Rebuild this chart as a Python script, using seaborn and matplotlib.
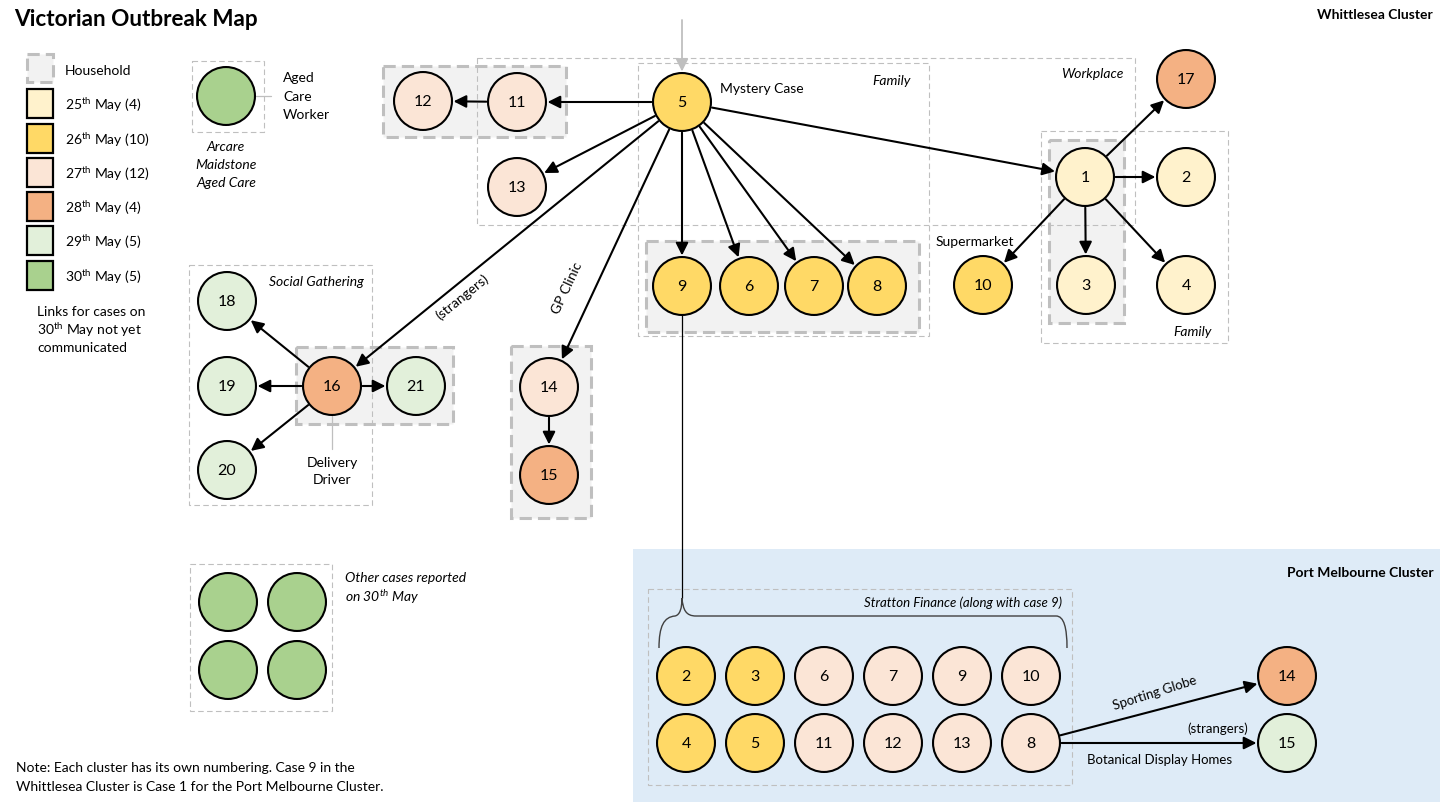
import matplotlib
matplotlib.use('Agg')
import matplotlib.pyplot as plt
from matplotlib.patches import Rectangle, PathPatch
from matplotlib.path import Path
import seaborn as sns
import pandas as pd

sns.set_theme(style='white')
plt.rcParams['font.family'] = ['Lato', 'DejaVu Sans']
plt.rcParams['text.color'] = 'black'
plt.rcParams['mathtext.fontset'] = 'custom'
plt.rcParams['mathtext.rm'] = 'Lato'
plt.rcParams['mathtext.it'] = 'Lato:italic'
plt.rcParams['mathtext.bf'] = 'Lato:bold'

# ---------------- data ----------------
date_labels = ['25th May', '26th May', '27th May', '28th May', '29th May', '30th May']
date_counts = [4, 10, 12, 4, 5, 5]
date_colors = ['#FFF2CC', '#FFD966', '#FBE5D6', '#F4B183', '#E2F0DA', '#A9D18E']

whittlesea_cases = [1, 2, 3, 4, 5, 6, 7, 8, 9, 10, 11, 12, 13, 14, 15, 16, 17, 18, 19, 20, 21]
whittlesea_dates = ['25th May', '25th May', '25th May', '25th May',
                    '26th May', '26th May', '26th May', '26th May', '26th May', '26th May',
                    '27th May', '27th May', '27th May', '27th May',
                    '28th May', '28th May', '28th May',
                    '29th May', '29th May', '29th May', '29th May']
whittlesea_links = [(5, 11), (11, 12), (5, 13), (5, 16), (5, 14), (5, 9), (5, 6), (5, 7), (5, 8),
                    (5, 1), (1, 17), (1, 2), (1, 3), (1, 4), (1, 10),
                    (16, 18), (16, 19), (16, 20), (16, 21), (14, 15)]

portmelb_cases = [2, 3, 6, 7, 9, 10, 4, 5, 11, 12, 13, 8, 14, 15]
portmelb_dates = ['26th May', '26th May', '27th May', '27th May', '27th May', '27th May',
                  '26th May', '26th May', '27th May', '27th May', '27th May', '27th May',
                  '28th May', '29th May']
portmelb_links = [(8, 14), (8, 15)]

other_cases = ['Aged Care Worker', 'Other A', 'Other B', 'Other C', 'Other D']
other_dates = ['30th May'] * 5

# ---------------- layout (pixel canvas) ----------------
W_POS = {5: (682, 102), 11: (517, 102), 12: (423, 101), 13: (517, 187),
         9: (682, 286), 6: (749, 286), 7: (814, 286), 8: (877, 286),
         1: (1085, 177), 2: (1186, 177), 3: (1086, 285), 4: (1186, 285),
         17: (1186, 79), 10: (983, 285),
         16: (332, 386), 18: (227, 301), 19: (227, 386), 20: (227, 470), 21: (416, 386),
         14: (549, 387), 15: (549, 475)}
P_POS = {2: (686, 676), 3: (755, 676), 6: (824, 676), 7: (893, 676), 9: (962, 676), 10: (1031, 676),
         4: (686, 743), 5: (755, 743), 11: (824, 743), 12: (893, 743), 13: (962, 743), 8: (1031, 743),
         14: (1287, 676), 15: (1287, 743)}
O_POS = {'Aged Care Worker': (226, 96), 'Other A': (228, 602), 'Other B': (297, 602),
         'Other C': (228, 670), 'Other D': (297, 670)}

palette = dict(zip(date_labels, date_colors))

rows = []
for c, d in zip(whittlesea_cases, whittlesea_dates):
    rows.append(dict(x=W_POS[c][0], y=W_POS[c][1], date=d, label=str(c)))
for c, d in zip(portmelb_cases, portmelb_dates):
    rows.append(dict(x=P_POS[c][0], y=P_POS[c][1], date=d, label=str(c)))
for c, d in zip(other_cases, other_dates):
    rows.append(dict(x=O_POS[c][0], y=O_POS[c][1], date=d, label=''))
df = pd.DataFrame(rows)

fig = plt.figure(figsize=(14.4, 8.02), dpi=100)
ax = fig.add_axes([0, 0, 1, 1])

# backgrounds
ax.add_patch(Rectangle((633, 549), 807, 253, facecolor='#DEEBF7', edgecolor='none', zorder=0))

def household(x0, y0, x1, y1):
    ax.add_patch(Rectangle((x0, y0), x1 - x0, y1 - y0, facecolor='#F2F2F2', edgecolor='#BFBFBF',
                           lw=2.2, linestyle=(0, (4, 2)), zorder=0.6))

def thinbox(x0, y0, x1, y1):
    ax.add_patch(Rectangle((x0, y0), x1 - x0, y1 - y0, facecolor='none', edgecolor='#BFBFBF',
                           lw=0.8, linestyle=(0, (5, 3)), zorder=0.8))

household(383, 66, 566, 137)
household(646, 241, 919, 332)
household(1049, 140, 1124, 323)
household(296, 347, 453, 424)
household(511, 346, 591, 518)

thinbox(477, 58, 1135, 225)
thinbox(638, 63, 929, 336)
thinbox(1041, 131, 1228, 343)
thinbox(189, 265, 372, 505)
thinbox(192, 61, 264, 132)
thinbox(190, 564, 332, 711)
thinbox(648, 589, 1072, 785)

# arrows
def arrow(p, q, color='black', lw=1.5, sA=22, sB=22):
    ax.annotate('', xy=q, xytext=p,
                arrowprops=dict(arrowstyle='-|>,head_length=0.5,head_width=0.25', color=color, lw=lw,
                                shrinkA=sA, shrinkB=sB, mutation_scale=15),
                zorder=2)

for a, b in whittlesea_links:
    arrow(W_POS[a], W_POS[b])
for a, b in portmelb_links:
    arrow(P_POS[a], P_POS[b])
arrow((682, 20), W_POS[5], color='#BFBFBF', lw=1.3, sA=0)

# leader lines
ax.plot([682, 682], [315, 598], color='black', lw=0.9, zorder=1.5)
ax.plot([255, 271], [96, 96], color='#BFBFBF', lw=0.9, zorder=1.5)
ax.plot([332, 332], [415, 449], color='#BFBFBF', lw=0.9, zorder=1.5)

# brace
verts = [(659, 648), (659, 626), (664, 617), (675, 616),
         (680, 615), (682, 608), (682, 598),
         (683, 610), (686, 616), (696, 616),
         (1056, 616),
         (1064, 616), (1067, 628), (1067, 648)]
codes = [Path.MOVETO, Path.CURVE4, Path.CURVE4, Path.CURVE4,
         Path.CURVE4, Path.CURVE4, Path.CURVE4,
         Path.CURVE4, Path.CURVE4, Path.CURVE4,
         Path.LINETO,
         Path.CURVE4, Path.CURVE4, Path.CURVE4]
ax.add_patch(PathPatch(Path(verts, codes), facecolor='none', edgecolor='#404040', lw=1.0, zorder=1.5))

# nodes
sns.scatterplot(data=df, x='x', y='y', hue='date', hue_order=date_labels, palette=palette,
                s=1740, edgecolor='black', linewidth=1.5, legend=False, ax=ax, zorder=3)
for _, r in df.iterrows():
    if r['label']:
        ax.text(r['x'], r['y'] + 1, r['label'], ha='center', va='center', fontsize=11.5, zorder=4)

# legend
fs = 10
sq_y = [89, 124, 158, 192, 226, 261]
ax.add_patch(Rectangle((27, 54), 26, 28, facecolor='#F2F2F2', edgecolor='#BFBFBF', lw=2.2,
                       linestyle=(0, (4, 2)), zorder=1))
ax.text(65, 71, 'Household', fontsize=fs, va='center', ha='left')
for y0, lab, cnt, col in zip(sq_y, date_labels, date_counts, date_colors):
    ax.add_patch(Rectangle((27, y0), 26, 29, facecolor=col, edgecolor='black', lw=1.6, zorder=1))
    day = lab.split('th')[0]
    ax.text(65, y0 + 16, day + r'$^{\mathregular{th}}$' + ' May (%d)' % cnt, fontsize=fs,
            va='center', ha='left')
ax.text(37, 312, 'Links for cases on', fontsize=fs, va='center', ha='left')
ax.text(37, 330, r'30$^{\mathregular{th}}$ May not yet', fontsize=fs, va='center', ha='left')
ax.text(37, 348, 'communicated', fontsize=fs, va='center', ha='left')

# titles
ax.text(14, 20, 'Victorian Outbreak Map', fontsize=16.2, fontweight='bold', va='center', ha='left')
ax.text(1433, 15, 'Whittlesea Cluster', fontsize=10, fontweight='bold', va='center', ha='right')
ax.text(1434, 573, 'Port Melbourne Cluster', fontsize=10, fontweight='bold', va='center', ha='right')

# labels
ax.text(720, 89, 'Mystery Case', fontsize=fs, va='center', ha='left')
ax.text(911, 81, 'Family', fontsize=fs, style='italic', va='center', ha='right')
ax.text(1123, 74, 'Workplace', fontsize=fs, style='italic', va='center', ha='right')
ax.text(975, 242, 'Supermarket', fontsize=fs, va='center', ha='center')
ax.text(1212, 332, 'Family', fontsize=fs, style='italic', va='center', ha='right')
ax.text(364, 282, 'Social Gathering', fontsize=fs, style='italic', va='center', ha='right')
ax.text(332, 463, 'Delivery', fontsize=fs, va='center', ha='center')
ax.text(332, 480, 'Driver', fontsize=fs, va='center', ha='center')
ax.text(462, 297, '(strangers)', fontsize=fs, va='center', ha='center', rotation=39)
ax.text(567, 288, 'GP Clinic', fontsize=fs, va='center', ha='center', rotation=65)
ax.text(283, 78, 'Aged', fontsize=fs, va='center', ha='left')
ax.text(283, 97, 'Care', fontsize=fs, va='center', ha='left')
ax.text(283, 115, 'Worker', fontsize=fs, va='center', ha='left')
ax.text(226, 147, 'Arcare', fontsize=fs, style='italic', va='center', ha='center')
ax.text(226, 165, 'Maidstone', fontsize=fs, style='italic', va='center', ha='center')
ax.text(226, 183, 'Aged Care', fontsize=fs, style='italic', va='center', ha='center')
ax.text(345, 578, 'Other cases reported', fontsize=fs, style='italic', va='center', ha='left')
ax.text(345, 597, r'on 30$^{\mathregular{th}}$ May', fontsize=fs, style='italic', va='center', ha='left')
ax.text(16, 768, 'Note: Each cluster has its own numbering. Case 9 in the', fontsize=fs, va='center', ha='left')
ax.text(16, 787, 'Whittlesea Cluster is Case 1 for the Port Melbourne Cluster.', fontsize=fs,
        va='center', ha='left')
ax.text(1062, 603, 'Stratton Finance (along with case 9)', fontsize=9.5, style='italic', va='center', ha='right')
ax.text(1155, 693, 'Sporting Globe', fontsize=9.5, va='center', ha='center', rotation=17.6)
ax.text(1218, 729, '(strangers)', fontsize=9.5, va='center', ha='center')
ax.text(1160, 760, 'Botanical Display Homes', fontsize=9.5, va='center', ha='center')

ax.set_xlim(0, 1440)
ax.set_ylim(802, 0)
ax.axis('off')
fig.savefig('out.png', dpi=100)
